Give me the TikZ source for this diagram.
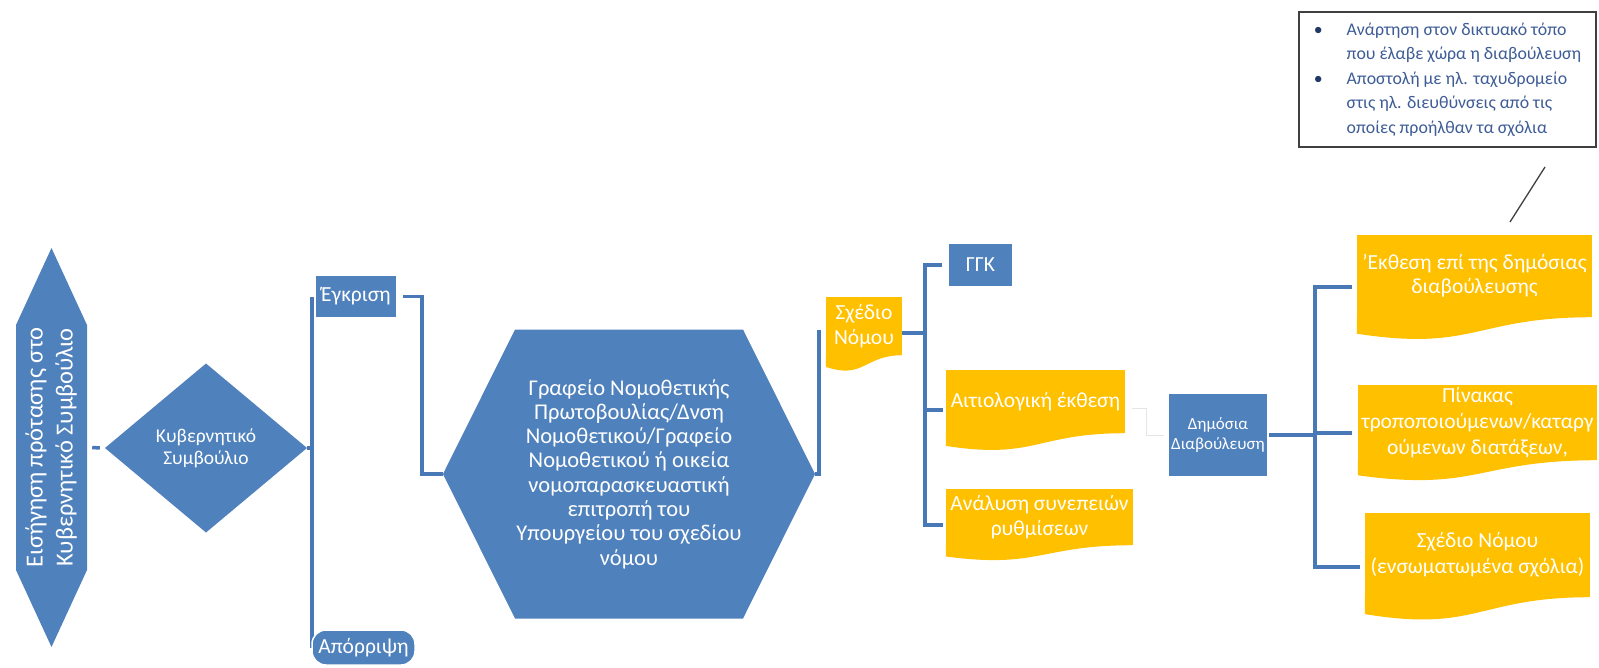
\documentclass[tikz,border=0pt]{standalone}
\usepackage{fontspec}
\setmainfont{Carlito}
\usepackage{graphicx}
\usetikzlibrary{calc}

\definecolor{shapeblue}{RGB}{79,129,189}
\definecolor{linkblue}{RGB}{72,120,182}
\definecolor{docyellow}{RGB}{255,192,0}
\definecolor{notetext}{RGB}{62,92,150}
\definecolor{notebullet}{RGB}{32,56,100}
\definecolor{noteframe}{RGB}{64,64,64}

\pgfdeclarelayer{bg}
\pgfsetlayers{bg,main}

% wavy lower edge hanging under a document box
\newcommand\docwave[1]{%
  \fill[docyellow] let \p1=(#1.north), \p2=(#1.south), \n1={\y1-\y2} in
    (#1.south east) .. controls (#1.south) and ($(#1.south)+(0pt,-0.42*\n1)$)
    .. ($(#1.south west)+(0pt,-0.2*\n1)$) -- (#1.south west) -- cycle;}

\tikzset{
  every node/.style={inner sep=0pt, text=white, align=center},
  blueblock/.style={fill=shapeblue, draw=white, line width=1.5pt},
  docblock/.style={fill=docyellow},
  conn/.style={draw=linkblue, line width=3.5pt},
  faintconn/.style={draw=black!10, line width=1pt},
  % hexagon pointing left and right, #1 = depth of the points
  hexbody/.style={path picture={\fill[shapeblue]
    (path picture bounding box.west)
    -- ([xshift=#1]path picture bounding box.north west)
    -- ([xshift=-#1]path picture bounding box.north east)
    -- (path picture bounding box.east)
    -- ([xshift=-#1]path picture bounding box.south east)
    -- ([xshift=#1]path picture bounding box.south west) -- cycle;}},
  % hexagon pointing up and down, #1 = depth of the points
  vhexbody/.style={path picture={\fill[shapeblue]
    (path picture bounding box.north)
    -- ([yshift=-#1]path picture bounding box.north east)
    -- ([yshift=#1]path picture bounding box.south east)
    -- (path picture bounding box.south)
    -- ([yshift=#1]path picture bounding box.south west)
    -- ([yshift=-#1]path picture bounding box.north west) -- cycle;}},
  diamondbody/.style={path picture={\fill[shapeblue]
    (path picture bounding box.west) -- (path picture bounding box.north)
    -- (path picture bounding box.east) -- (path picture bounding box.south) -- cycle;}},
  bigtext/.style={font=\fontsize{21.5}{24.5}\selectfont},
}

\begin{document}
\begin{tikzpicture}[x=1pt,y=-1pt]
\useasboundingbox (0,0) rectangle (1599,667);

% ---- nodes ----
\node[vhexbody=77pt, minimum width=71, minimum height=399,
      font=\fontsize{24.5}{30}\selectfont] (intro) at (51.5,447.5)
  {\rotatebox{90}{\begin{tabular}{@{}c@{}}Εισήγηση πρότασης στο\\Κυβερνητικό Συμβούλιο\end{tabular}}};

\node[diamondbody, minimum width=202, minimum height=169,
      font=\fontsize{19.5}{22}\selectfont] (kyv) at (206,448)
  {Κυβερνητικό\\Συμβούλιο};

\node[blueblock, bigtext, minimum width=82, minimum height=43] (egkrisi) at (356,296.5) {Έγκριση};

\node[blueblock, bigtext, rounded corners=14pt, minimum width=103, minimum height=35] (aporripsi) at (363.5,647.5) {Απόρριψη};

\node[hexbody=72pt, minimum width=372, minimum height=289,
      font=\fontsize{22.5}{24.3}\selectfont] (grafeio) at (629,474)
  {Γραφείο Νομοθετικής\\Πρωτοβουλίας/Δνση\\Νομοθετικού/Γραφείο\\Νομοθετικού ή οικεία\\νομοπαρασκευαστική\\επιτροπή του\\Υπουργείου του σχεδίου\\νόμου};

\node[docblock, bigtext, minimum width=76, minimum height=58] (sxedio) at (864,326) {Σχέδιο\\Νόμου};
\docwave{sxedio}

\node[blueblock, bigtext, minimum width=65, minimum height=44] (ggk) at (980.5,265) {ΓΓΚ};

\node[docblock, bigtext, minimum width=179, minimum height=63] (aitio) at (1035.5,401.5) {Αιτιολογική έκθεση};
\docwave{aitio}

\node[docblock, bigtext, minimum width=187, minimum height=56] (analysi) at (1039.5,517) {Ανάλυση συνεπειών\\ρυθμίσεων};
\docwave{analysi}

\node[blueblock, font=\fontsize{17}{20}\selectfont, minimum width=100, minimum height=84] (dimosia) at (1218,435) {Δημόσια\\Διαβούλευση};

\node[docblock, font=\fontsize{21.5}{23.5}\selectfont, minimum width=235, minimum height=82] (ekthesi) at (1474.5,276) {'Εκθεση επί της δημόσιας\\διαβούλευσης};
\docwave{ekthesi}

\node[docblock, font=\fontsize{21.5}{26}\selectfont, minimum width=239, minimum height=75] (pinakas) at (1477.5,422.5) {Πίνακας\\τροποποιούμενων/καταργ\\ούμενων διατάξεων,};
\docwave{pinakas}

\node[docblock, font=\fontsize{21.5}{26}\selectfont, minimum width=225, minimum height=84] (sxedio2) at (1477.5,555) {Σχέδιο Νόμου\\(ενσωματωμένα σχόλια)};
\docwave{sxedio2}

\node[draw=noteframe, line width=1.3pt, fill=white, minimum width=297, minimum height=135,
      text=notetext, font=\fontsize{17.8}{24.5}\selectfont, align=left] (note) at (1447.5,79.5)
  {\raisebox{-3pt}{\begin{tabular}{@{}l@{\hspace{24pt}}l@{}}
    \textcolor{notebullet}{\textbullet} & Ανάρτηση στον δικτυακό τόπο\\
     & που έλαβε χώρα η διαβούλευση\\
    \textcolor{notebullet}{\textbullet} & Αποστολή με ηλ. ταχυδρομείο\\
     & στις ηλ. διευθύνσεις από τις\\
     & οποίες προήλθαν τα σχόλια
  \end{tabular}}};

\coordinate (tipA) at (1545,167);
\coordinate (tipB) at (1510,222);
\draw[noteframe, line width=1.3pt] (tipA) -- (tipB);

% ---- connectors, kept under the boxes ----
\begin{pgfonlayer}{bg}
\fill[white] (0,0) rectangle (1599,667);

\draw[conn] ([xshift=5pt]intro.east) -- ([xshift=-5pt]kyv.west);

\coordinate (busA) at (312,448);
\draw[conn] (kyv.east) -- (busA);
\draw[conn] (egkrisi.west -| busA) -- (aporripsi.west -| busA);

\draw[conn] ([xshift=5pt]egkrisi.east) -| ([xshift=-21pt]grafeio.west) -- (grafeio.west);

\draw[conn] (grafeio.east) -- ([xshift=4pt]grafeio.east) |- ([xshift=-5pt,yshift=-6pt]sxedio.west);

\coordinate (busB) at (925,333);
\draw[conn] ([yshift=-7pt]sxedio.east) -- (busB);
\draw[conn] ([xshift=-5pt]ggk.west) -| (busB) |- ([xshift=-3pt,yshift=-8pt]analysi.west);
\path ([xshift=-3pt,yshift=-8.5pt]aitio.west) coordinate (aitioTap);
\draw[conn] (aitioTap -| busB) -- (aitioTap);

\draw[faintconn] ([xshift=7pt,yshift=-6.5pt]aitio.east) -| ([xshift=-21pt]dimosia.west) -- ([xshift=-3pt]dimosia.west);

\coordinate (busC) at (1315,435);
\draw[conn] (dimosia.east) -- (busC);
\draw[conn] ([xshift=-5pt,yshift=-11pt]ekthesi.west) -| (busC) |- ([xshift=-5pt,yshift=-12pt]sxedio2.west);
\path ([xshift=-6pt,yshift=-10.5pt]pinakas.west) coordinate (pinTap);
\draw[conn] (pinTap -| busC) -- (pinTap);
\end{pgfonlayer}
\end{tikzpicture}
\end{document}
